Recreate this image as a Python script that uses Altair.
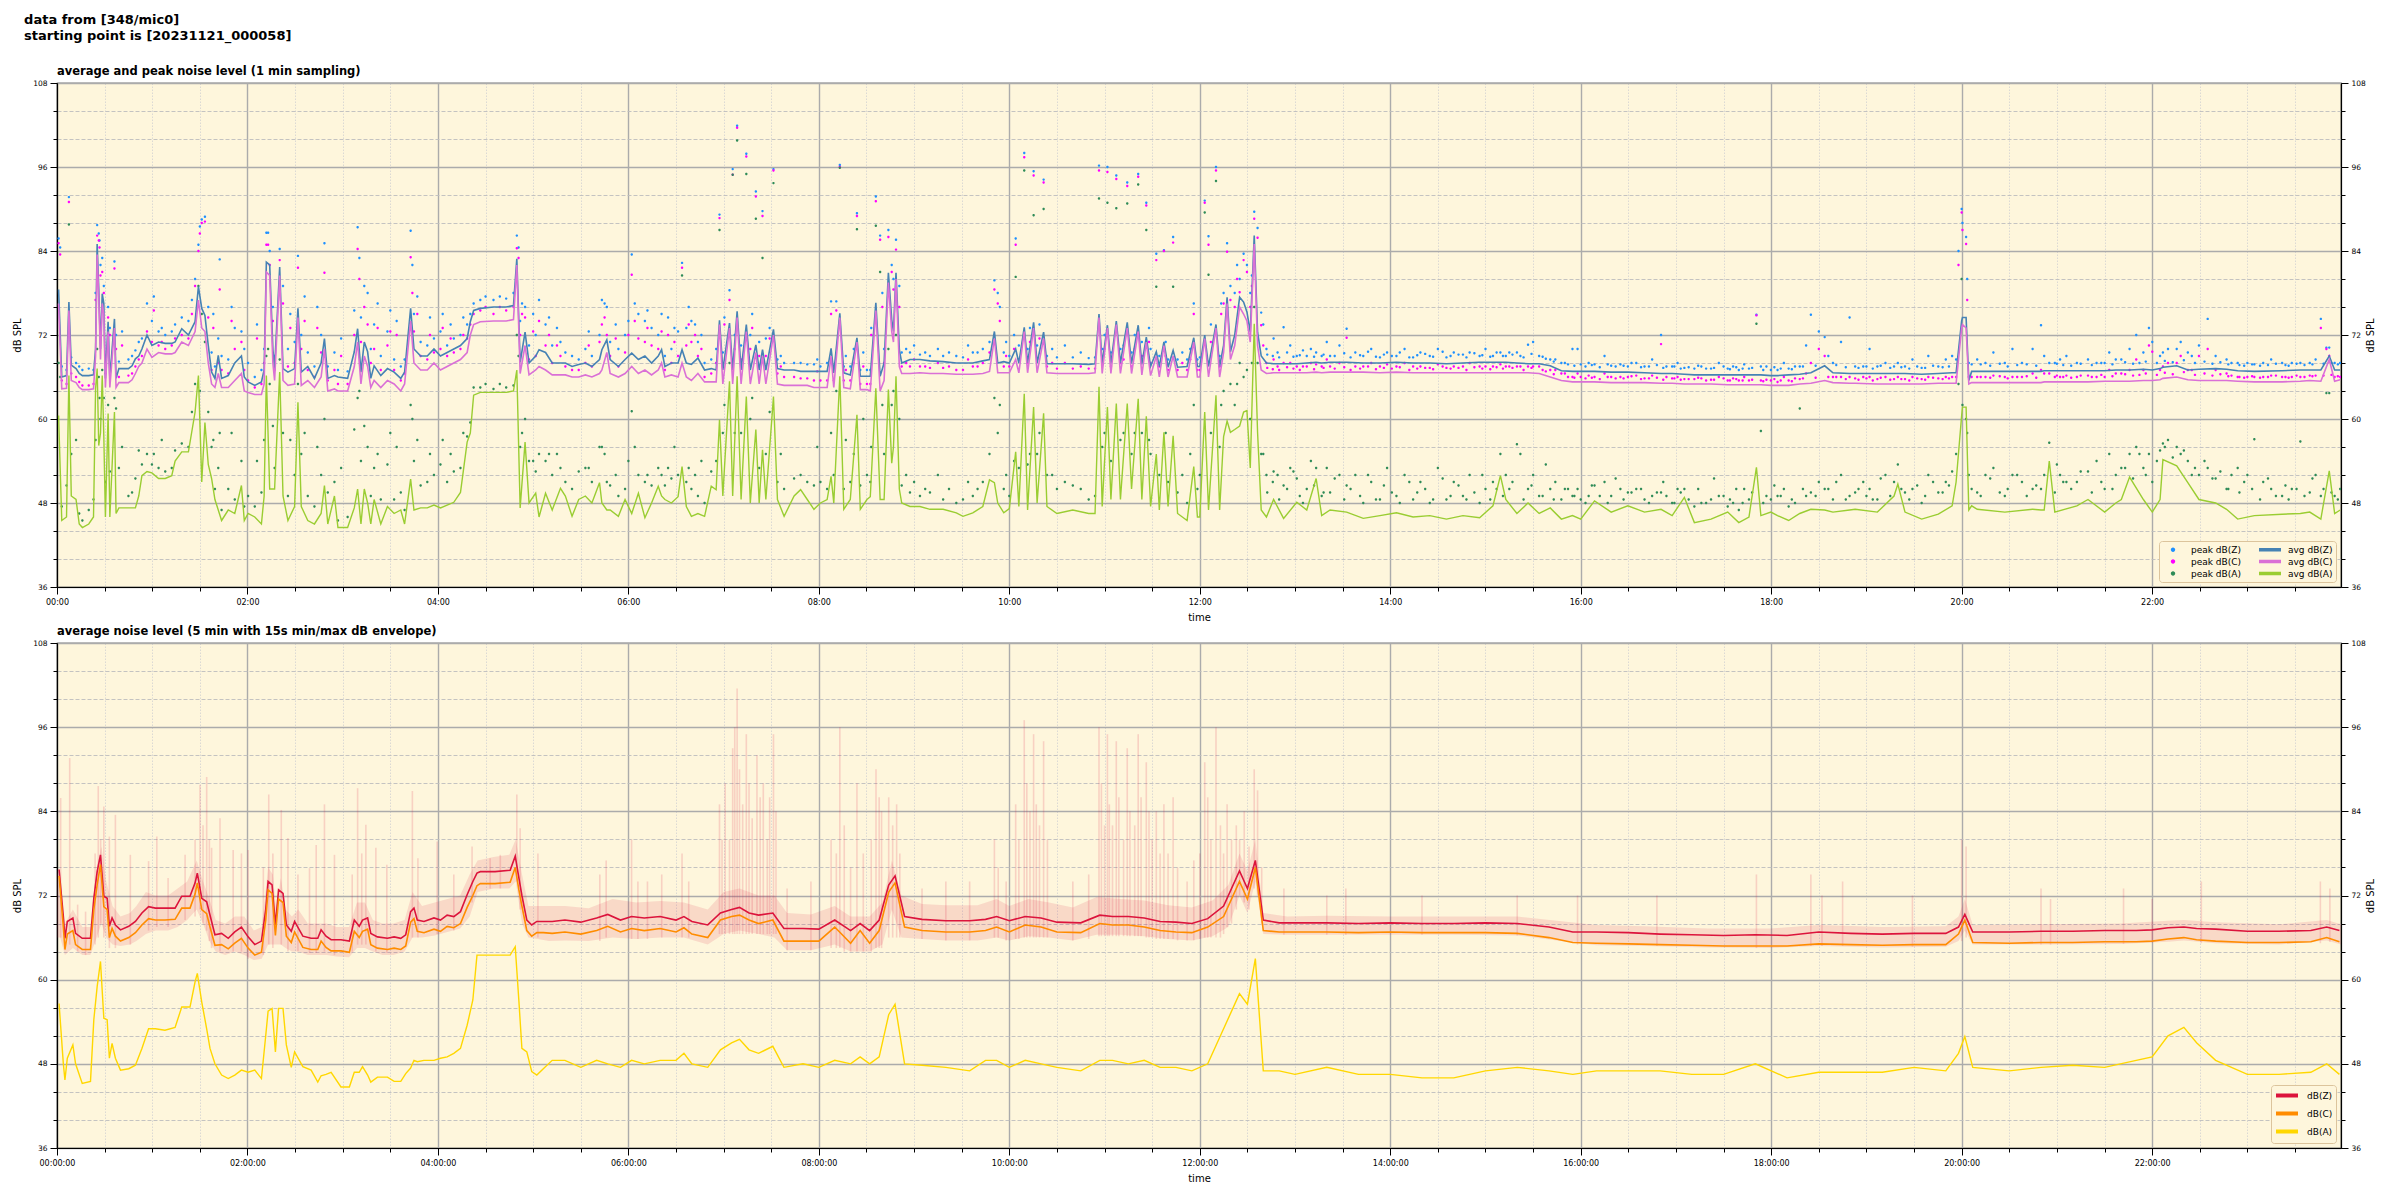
import altair as alt
import pandas as pd

# ---------------- top panel: 1-min averages (minutes since 00:00) ----------------
top_t = [1, 3, 6, 7.5, 9, 12, 14, 16, 20, 23,
         24.3, 25.3, 26.3, 27.4, 28.5, 29.5, 30.5, 32.2, 33.3, 36.2,
         37.2, 39, 45, 47.3, 49.4, 51.5, 53.5, 56.7, 59.8, 64,
         68.2, 72.3, 74.4, 78.6, 82.8, 87, 89.1, 91.2, 93.2, 95.3,
         97.4, 99.5, 101.6, 103.7, 107.9, 112, 116.2, 118, 120.4, 124.6,
         128.8, 130.5, 131.9, 134, 136, 137.1, 140.3, 142.4, 145.5, 149.7,
         151.8, 153.9, 158, 162.2, 166.4, 168.5, 170.6, 174.8, 177, 183.1,
         187.3, 189.4, 191.5, 193.6, 195.7, 197.7, 199.8, 204, 208.2, 212.4,
         216.6, 219, 222.8, 224.9, 229.1, 233.3, 237.5, 241.6, 245.8, 250,
         254.2, 258.4, 260.4, 262.5, 266.7, 275, 283, 287.6, 289.7, 291.8,
         294.9, 297.4, 301.6, 303.7, 307.8, 312, 317.2, 320.3, 324.5, 328.7,
         332.9, 337, 341.8, 343.3, 346.4, 348.5, 353.7, 357.9, 362.1, 366.3,
         370.4, 374.6, 378.8, 380.9, 383, 387.1, 391.3, 393.8, 396.5, 399.7,
         403.8, 408, 412.2, 415.3, 417.4, 419.5, 423.7, 425.7, 428.5, 431,
         434.3, 436.8, 440.3, 442.4, 444.5, 446.6, 451.4, 453.9, 458.1, 464.4,
         468.5, 472.7, 476.9, 481, 485.2, 487.7, 489.4, 493.2, 495.7, 499.8,
         504, 506.1, 510.3, 512.4, 515.9, 518.6, 521.1, 523.8, 525.9, 527,
         528.6, 530.7, 532.2, 537.4, 543.7, 550, 558.3, 566.6, 570.8, 577,
         583.3, 587.5, 590.6, 592.7, 596.5, 600, 604, 606, 609.4, 611.5,
         615.3, 617.5, 621.6, 623.7, 630, 640, 650, 654, 656.5, 658.5,
         661.8, 664, 667.4, 670, 674.3, 677, 681.2, 683.5, 686.3, 689,
         692.6, 694.5, 697.4, 700, 703.2, 706, 712, 716.2, 718.5, 720,
         723.1, 725.5, 730.2, 732.5, 735, 737.2, 739.3, 742, 745.1, 747.6,
         749.7, 751.8, 754.3, 756.4, 758.7, 762, 766.5, 772.8, 781.1, 787.4,
         793.3, 796.8, 802.1, 812.5, 823, 833.5, 843.9, 854.4, 864.9, 875.4,
         885.8, 896.3, 904.7, 909.4, 912.8, 919.8, 926.8, 933.8, 940.8, 947.8,
         954.8, 960, 968.7, 979.2, 989.7, 1000.2, 1010.6, 1017.6, 1025.3, 1031.6,
         1042.1, 1052.6, 1059.6, 1066, 1070.7, 1073.5, 1079.8, 1084, 1091, 1098,
         1105, 1113.7, 1118.9, 1129.4, 1132.9, 1146.9, 1157.4, 1159.8, 1164.3, 1174.8,
         1185.3, 1194, 1196.5, 1200, 1200.5, 1202.8, 1204.5, 1206.3, 1209.8, 1227.2,
         1244.7, 1250, 1252, 1255.2, 1258.7, 1272.6, 1279.6, 1290.1, 1297.1, 1300.6,
         1305.8, 1314.5, 1320.1, 1325, 1326.8, 1335.5, 1342.5, 1349.5, 1360, 1366.9,
         1373.9, 1384.4, 1401.9, 1413.4, 1419.3, 1426.3, 1431.6, 1435, 1438.5]

avg_z = [78.5, 66.0, 66.2, 76.7, 67.7, 67.2, 66.5, 66.2, 66.2, 66.3,
         70.0, 85.0, 78.6, 70.0, 77.9, 76.5, 65.8, 73.9, 65.8, 74.3,
         65.8, 67.2, 67.2, 67.6, 68.6, 69.0, 70.0, 72.0, 70.5, 71.0,
         70.8, 70.8, 71.0, 72.9, 72.0, 73.9, 78.9, 75.8, 74.8, 70.5,
         66.7, 65.8, 69.1, 65.8, 66.2, 68.0, 69.0, 66.0, 65.3, 64.8,
         65.3, 67.0, 82.4, 82.0, 70.0, 67.2, 81.7, 67.2, 66.7, 67.2,
         75.8, 66.7, 67.5, 65.8, 68.0, 71.5, 65.8, 66.2, 66.0, 65.8,
         69.6, 72.9, 66.7, 71.0, 69.6, 65.8, 67.6, 66.2, 67.2, 66.7,
         65.8, 66.7, 75.8, 70.0, 69.0, 69.0, 70.0, 69.0, 69.5, 70.0,
         70.5, 71.5, 73.9, 75.5, 75.8, 76.0, 76.0, 76.2, 82.9, 68.1,
         72.4, 68.0, 69.0, 69.9, 69.5, 68.0, 68.0, 68.0, 67.5, 67.8,
         68.0, 67.5, 68.5, 69.9, 71.3, 68.5, 67.5, 68.5, 69.4, 68.5,
         69.0, 68.0, 69.0, 69.9, 67.5, 68.0, 68.0, 69.9, 68.0, 67.8,
         68.7, 67.0, 67.2, 67.0, 74.1, 67.0, 73.7, 67.0, 75.4, 67.0,
         73.5, 67.0, 70.6, 67.0, 69.9, 67.0, 72.8, 67.2, 67.0, 67.0,
         66.8, 66.8, 66.8, 66.8, 66.8, 70.1, 66.6, 75.1, 66.6, 66.3,
         71.6, 66.1, 66.1, 66.1, 76.6, 66.1, 68.0, 80.9, 74.2, 72.5,
         80.9, 69.9, 68.0, 68.5, 68.5, 68.3, 68.2, 68.0, 68.0, 68.0,
         68.3, 68.5, 72.5, 68.0, 68.2, 68.0, 70.0, 68.0, 73.1, 68.0,
         73.8, 68.0, 72.4, 67.9, 67.9, 67.9, 67.8, 67.9, 75.0, 67.9,
         73.4, 67.9, 74.0, 68.0, 73.8, 67.9, 73.4, 67.8, 71.7, 67.5,
         69.6, 67.5, 71.0, 67.4, 69.8, 67.4, 67.5, 71.6, 67.5, 67.5,
         72.0, 67.5, 73.5, 67.5, 70.5, 77.4, 69.6, 72.0, 77.4, 76.7,
         75.3, 72.4, 86.2, 72.4, 69.0, 68.0, 67.9, 67.9, 67.9, 68.0,
         68.1, 68.0, 68.1, 68.1, 68.0, 68.0, 68.1, 68.0, 68.0, 67.9,
         68.0, 68.1, 68.1, 68.1, 68.1, 68.0, 67.9, 67.9, 67.6, 66.9,
         66.8, 66.8, 66.8, 66.7, 66.7, 66.6, 66.5, 66.5, 66.4, 66.3,
         66.3, 66.3, 66.3, 66.3, 66.3, 66.3, 66.2, 66.2, 66.3, 66.4,
         66.6, 67.6, 66.6, 66.5, 66.5, 66.5, 66.5, 66.5, 66.5, 66.4,
         66.5, 66.6, 66.6, 74.0, 74.5, 74.5, 65.5, 66.8, 66.8, 66.8,
         66.8, 66.8, 66.9, 66.9, 66.9, 66.9, 66.9, 66.9, 67.0, 67.0,
         67.0, 67.1, 67.0, 67.2, 67.4, 67.6, 67.0, 67.1, 67.2, 67.1,
         66.9, 66.8, 66.9, 67.0, 67.0, 67.0, 69.0, 67.0, 67.0]

avg_c = [76.5, 64.3, 64.4, 75.5, 65.5, 65.2, 64.5, 64.2, 64.2, 64.3,
         69.0, 83.5, 77.5, 68.5, 76.5, 75.0, 64.5, 72.5, 64.5, 73.0,
         64.5, 65.2, 65.2, 65.6, 66.5, 67.5, 68.0, 70.0, 68.8, 69.5,
         69.3, 69.3, 69.5, 71.0, 70.5, 72.5, 77.0, 73.0, 72.5, 68.0,
         65.0, 64.5, 66.5, 64.5, 64.5, 65.5, 66.5, 64.0, 63.8, 63.5,
         63.5, 65.0, 81.0, 80.5, 68.0, 65.5, 80.5, 65.5, 64.8, 65.0,
         74.5, 64.8, 65.5, 64.5, 66.0, 70.0, 64.0, 64.3, 64.0, 64.0,
         67.5, 71.0, 65.0, 69.0, 67.5, 64.5, 65.5, 64.5, 65.5, 65.0,
         64.0, 65.0, 74.0, 68.0, 67.0, 67.0, 68.0, 67.0, 67.5, 68.0,
         68.5, 69.5, 72.0, 73.5, 73.9, 74.0, 74.0, 74.2, 82.0, 66.5,
         70.5, 66.3, 67.0, 67.5, 67.0, 66.3, 66.3, 66.3, 66.0, 66.0,
         66.3, 66.0, 66.5, 67.0, 69.5, 66.5, 66.0, 66.5, 67.5, 66.5,
         67.0, 66.3, 67.0, 68.0, 66.0, 66.3, 66.0, 68.0, 66.0, 65.5,
         66.5, 65.3, 65.3, 65.3, 73.5, 65.0, 73.0, 65.0, 74.5, 65.0,
         72.5, 65.0, 69.5, 65.0, 69.0, 65.0, 72.0, 65.0, 64.8, 64.8,
         64.8, 64.8, 64.5, 64.5, 64.5, 69.0, 64.5, 74.5, 64.5, 64.3,
         71.0, 64.2, 64.2, 64.0, 75.5, 64.0, 65.5, 79.5, 72.5, 71.0,
         80.0, 67.5, 66.5, 66.5, 66.6, 66.5, 66.5, 66.4, 66.4, 66.4,
         66.5, 66.8, 71.5, 66.6, 66.6, 66.6, 68.5, 66.6, 72.5, 66.6,
         73.0, 66.6, 71.5, 66.6, 66.5, 66.5, 66.5, 66.6, 74.5, 66.5,
         73.0, 66.5, 73.5, 66.5, 73.0, 66.5, 72.5, 66.3, 71.0, 66.2,
         69.0, 66.0, 70.5, 66.0, 69.0, 66.0, 66.0, 71.0, 66.0, 66.0,
         71.5, 66.0, 73.0, 66.0, 69.5, 76.5, 68.5, 70.5, 76.0, 75.0,
         74.0, 71.0, 85.0, 70.5, 67.0, 66.5, 66.6, 66.6, 66.6, 66.6,
         66.7, 66.6, 66.7, 66.7, 66.7, 66.6, 66.7, 66.6, 66.6, 66.6,
         66.6, 66.6, 66.6, 66.6, 66.6, 66.6, 66.6, 66.5, 66.0, 65.5,
         65.3, 65.3, 65.3, 65.2, 65.2, 65.2, 65.1, 65.1, 65.0, 65.0,
         65.0, 64.9, 64.9, 64.9, 64.9, 64.9, 64.8, 64.8, 64.8, 65.0,
         65.1, 65.5, 65.2, 65.1, 65.1, 65.0, 65.0, 65.0, 65.0, 65.0,
         65.1, 65.1, 65.1, 73.0, 73.5, 73.0, 65.0, 65.2, 65.2, 65.2,
         65.2, 65.2, 65.3, 65.3, 65.3, 65.3, 65.3, 65.4, 65.4, 65.4,
         65.4, 65.5, 65.5, 65.6, 65.8, 66.0, 65.6, 65.5, 65.5, 65.5,
         65.4, 65.3, 65.3, 65.4, 65.5, 65.4, 68.5, 65.4, 65.6]

avg_a = [60.5, 45.5, 46.0, 66.2, 49.0, 48.5, 45.0, 44.5, 45.0, 46.0,
         64.3, 67.2, 56.2, 58.0, 66.2, 57.5, 46.0, 60.8, 46.0, 61.0,
         46.5, 47.3, 47.3, 47.3, 47.3, 49.0, 51.9, 52.5, 52.3, 51.5,
         51.5, 51.9, 54.0, 55.3, 55.3, 61.0, 66.2, 51.0, 59.5, 53.5,
         51.5, 48.5, 47.0, 45.5, 47.0, 46.5, 50.5, 45.5, 46.5, 46.0,
         45.0, 49.0, 66.2, 50.0, 50.0, 50.0, 66.7, 49.0, 45.5, 47.5,
         62.4, 47.5, 45.5, 45.0, 46.5, 50.5, 45.0, 49.0, 44.5, 44.5,
         47.3, 50.0, 45.0, 50.0, 48.0, 45.0, 48.5, 45.0, 47.5, 46.5,
         47.0, 45.0, 51.4, 47.0, 47.3, 47.3, 47.7, 47.3, 47.7, 48.1,
         49.5, 56.7, 58.0, 63.4, 63.8, 63.8, 63.8, 64.0, 67.0, 47.3,
         56.7, 48.0, 49.4, 46.0, 49.4, 47.0, 50.1, 49.0, 46.1, 48.5,
         49.0, 48.0, 50.9, 48.0, 47.0, 47.0, 46.1, 48.5, 46.5, 49.4,
         45.9, 48.0, 50.4, 49.0, 48.5, 48.0, 48.9, 53.2, 47.5, 46.1,
         46.5, 46.1, 50.4, 49.9, 59.9, 49.0, 65.4, 49.0, 66.1, 48.5,
         63.2, 48.0, 58.5, 48.0, 55.6, 48.5, 63.2, 48.5, 46.1, 49.0,
         49.9, 48.5, 47.1, 48.0, 48.5, 51.8, 48.0, 66.1, 47.1, 48.5,
         60.6, 47.1, 48.5, 48.9, 64.4, 48.5, 48.5, 64.2, 53.7, 56.0,
         66.1, 50.0, 48.0, 47.5, 47.5, 47.1, 47.1, 46.6, 46.1, 46.6,
         47.5, 51.3, 50.9, 48.0, 46.6, 47.2, 55.3, 47.5, 63.6, 47.0,
         61.7, 48.0, 60.8, 47.5, 46.5, 47.0, 46.5, 46.5, 64.6, 47.5,
         61.7, 48.5, 62.2, 48.5, 62.2, 50.0, 62.9, 48.5, 60.4, 47.5,
         55.0, 47.0, 58.1, 47.5, 57.6, 46.5, 45.5, 53.2, 46.0, 46.0,
         61.0, 47.0, 63.4, 47.0, 57.5, 59.7, 58.1, 58.5, 59.0, 61.0,
         61.2, 53.0, 73.6, 58.1, 47.0, 46.0, 48.5, 45.8, 48.1, 47.0,
         51.5, 46.2, 47.0, 46.7, 45.8, 46.2, 46.6, 46.0, 46.2, 45.7,
         46.2, 45.9, 47.6, 51.9, 48.5, 46.5, 48.0, 46.5, 47.3, 45.7,
         46.2, 45.7, 48.3, 46.7, 47.6, 46.7, 47.1, 46.2, 48.8, 45.2,
         45.7, 46.7, 45.2, 46.0, 53.1, 46.2, 46.7, 46.2, 45.5, 46.5,
         47.1, 47.0, 46.7, 47.0, 47.1, 46.7, 49.0, 50.7, 46.7, 45.7,
         46.4, 47.6, 51.0, 60.5, 61.7, 61.7, 47.0, 47.6, 47.1, 46.7,
         47.1, 47.0, 47.0, 54.0, 46.7, 47.6, 48.5, 46.7, 48.0, 48.5,
         51.7, 48.5, 46.7, 48.5, 54.2, 53.3, 50.9, 48.5, 48.0, 47.1,
         45.7, 46.2, 46.4, 46.5, 46.7, 45.7, 52.6, 46.5, 47.0]

# 1-min peak values at the same minutes
peak_z = [85.8, 67.5, 67.0, 91.7, 68.8, 68.0, 67.5, 67.0, 67.2, 67.0,
          78.0, 87.7, 86.5, 82.0, 83.0, 79.0, 68.0, 76.0, 73.0, 82.5,
          72.0, 68.2, 68.5, 69.0, 69.8, 71.0, 71.5, 76.5, 74.0, 72.5,
          72.0, 72.5, 73.5, 74.5, 74.0, 80.0, 84.9, 88.5, 88.9, 76.0,
          69.5, 67.5, 71.5, 69.0, 68.5, 73.0, 72.5, 70.0, 68.0, 66.0,
          67.0, 70.0, 86.6, 84.0, 76.0, 69.0, 84.3, 79.0, 70.0, 71.0,
          83.3, 72.0, 69.5, 67.5, 72.0, 85.1, 67.5, 69.5, 67.0, 66.8,
          75.5, 87.4, 74.5, 79.0, 78.0, 70.0, 73.5, 69.0, 72.5, 68.5,
          67.5, 68.5, 86.9, 75.0, 71.0, 70.5, 71.5, 72.5, 70.5, 71.5,
          72.0, 73.5, 75.0, 76.5, 77.0, 77.0, 77.2, 78.0, 86.2, 74.0,
          76.0, 70.5, 72.0, 77.0, 73.5, 70.5, 71.0, 69.5, 69.0, 68.5,
          70.0, 69.0, 72.0, 77.0, 76.0, 71.0, 70.0, 72.0, 83.5, 75.0,
          74.0, 73.0, 72.0, 75.0, 69.0, 70.0, 72.5, 82.3, 73.0, 74.0,
          71.0, 68.0, 68.5, 70.0, 89.2, 69.5, 78.4, 95.7, 101.9, 70.5,
          97.9, 72.0, 92.5, 71.0, 89.7, 71.5, 95.7, 68.5, 68.0, 68.0,
          68.0, 67.8, 67.8, 67.5, 68.0, 76.8, 67.5, 96.3, 67.5, 67.5,
          89.4, 67.0, 67.0, 67.0, 91.8, 86.2, 70.0, 87.0, 82.0, 80.0,
          85.6, 79.0, 69.5, 69.5, 69.2, 69.0, 69.0, 69.0, 68.8, 69.5,
          70.0, 71.0, 79.8, 78.0, 69.5, 69.0, 85.8, 70.5, 98.0, 70.0,
          95.4, 70.5, 94.2, 69.0, 68.8, 68.8, 68.7, 68.8, 96.2, 70.0,
          96.0, 69.5, 94.8, 70.0, 93.8, 69.5, 95.0, 71.0, 90.9, 70.0,
          83.6, 69.0, 84.1, 68.5, 86.0, 68.5, 68.5, 76.5, 68.5, 68.8,
          91.2, 86.1, 96.0, 69.0, 78.0, 85.1, 79.0, 78.0, 80.0, 83.6,
          82.0, 78.0, 89.6, 87.3, 75.2, 70.0, 71.5, 73.1, 69.0, 69.0,
          69.5, 69.0, 69.0, 72.9, 69.0, 68.8, 69.0, 68.8, 69.0, 68.8,
          69.2, 69.0, 69.0, 69.5, 69.0, 69.5, 70.6, 69.0, 68.5, 68.0,
          70.0, 67.8, 67.8, 67.6, 67.5, 67.5, 72.0, 67.5, 67.3, 67.2,
          67.2, 67.2, 67.0, 67.2, 74.9, 67.5, 67.0, 67.0, 67.2, 67.5,
          74.9, 71.7, 68.0, 74.5, 67.5, 67.5, 67.5, 68.0, 67.5, 67.3,
          67.5, 69.0, 68.5, 90.0, 88.0, 86.0, 68.0, 67.8, 68.5, 68.0,
          70.0, 73.4, 69.0, 68.0, 68.0, 68.0, 68.5, 68.0, 68.5, 68.5,
          70.0, 69.5, 71.0, 69.0, 69.5, 70.0, 69.5, 70.5, 69.0, 68.5,
          68.0, 67.8, 68.0, 68.0, 68.0, 74.3, 70.2, 68.0, 68.0]

peak_c = [85.1, 65.5, 65.0, 91.0, 66.5, 66.0, 65.3, 64.8, 64.8, 65.0,
          77.0, 86.2, 85.5, 80.5, 81.0, 78.0, 66.5, 74.5, 72.0, 81.5,
          70.0, 66.0, 66.2, 66.5, 67.5, 68.5, 69.0, 72.5, 71.0, 70.5,
          70.0, 70.5, 71.5, 72.0, 71.5, 79.0, 84.0, 88.0, 88.2, 74.5,
          67.0, 66.0, 68.0, 67.0, 66.5, 70.0, 71.0, 67.0, 65.5, 64.5,
          65.0, 68.0, 84.9, 82.0, 74.0, 67.0, 82.7, 76.5, 67.5, 68.0,
          81.6, 70.0, 67.0, 66.0, 69.5, 80.9, 65.5, 67.0, 65.0, 65.0,
          72.0, 84.3, 71.0, 76.0, 73.5, 68.0, 70.0, 67.0, 70.5, 67.0,
          65.5, 66.5, 83.1, 72.5, 69.0, 68.5, 69.5, 70.0, 69.0, 69.5,
          70.0, 71.5, 73.5, 75.0, 75.5, 75.0, 75.5, 76.0, 84.4, 72.0,
          74.5, 68.5, 69.0, 74.0, 70.5, 68.0, 69.0, 67.5, 67.0, 67.0,
          68.0, 67.5, 71.0, 73.5, 72.0, 69.0, 67.5, 69.5, 80.6, 71.5,
          71.0, 70.5, 70.0, 72.5, 67.0, 68.0, 69.0, 81.6, 70.5, 71.0,
          69.0, 66.0, 66.5, 68.0, 88.7, 67.5, 77.0, 94.9, 101.6, 68.5,
          97.5, 70.0, 91.8, 69.0, 89.0, 69.0, 95.5, 66.5, 66.0, 66.0,
          65.8, 65.8, 65.5, 65.5, 65.5, 75.0, 65.5, 96.0, 65.5, 65.5,
          89.0, 65.0, 65.0, 65.0, 91.1, 85.6, 68.0, 86.0, 81.0, 78.5,
          84.2, 76.0, 67.5, 67.5, 67.5, 67.3, 67.3, 67.0, 67.0, 67.5,
          68.0, 69.5, 78.5, 76.5, 67.5, 67.5, 84.9, 68.5, 97.4, 68.0,
          94.8, 68.5, 93.8, 67.5, 67.2, 67.2, 67.2, 67.2, 95.5, 68.0,
          95.3, 67.5, 94.3, 68.0, 93.3, 67.5, 94.6, 69.0, 90.5, 68.0,
          82.7, 67.5, 84.0, 67.0, 85.2, 67.0, 67.0, 75.0, 67.0, 67.0,
          90.9, 84.9, 95.5, 67.5, 76.5, 83.9, 77.0, 76.0, 78.1, 82.7,
          81.0, 76.0, 88.6, 85.9, 73.4, 68.0, 68.5, 68.0, 67.5, 67.5,
          67.8, 67.5, 67.5, 71.6, 67.5, 67.5, 67.5, 67.5, 67.3, 67.3,
          67.5, 67.5, 67.5, 67.8, 67.5, 67.5, 67.5, 67.5, 67.0, 66.5,
          66.0, 66.0, 66.0, 66.0, 66.0, 65.8, 70.7, 65.8, 65.7, 65.7,
          65.6, 65.5, 65.5, 65.5, 74.8, 65.5, 65.5, 65.3, 65.5, 65.7,
          68.0, 69.0, 66.0, 66.0, 65.8, 65.7, 65.7, 66.0, 65.7, 65.7,
          65.8, 66.0, 66.0, 89.5, 87.0, 85.0, 66.0, 66.0, 66.0, 66.0,
          66.5, 67.0, 66.5, 66.5, 66.0, 66.0, 66.2, 66.0, 66.5, 66.5,
          67.0, 67.0, 69.6, 67.0, 67.5, 68.0, 67.0, 69.0, 67.0, 66.5,
          66.0, 66.0, 66.0, 66.0, 66.2, 73.0, 69.0, 66.0, 66.0]

peak_a = [68.0, 47.5, 50.5, 87.8, 55.0, 57.0, 46.5, 45.5, 47.0, 48.5,
          57.0, 70.0, 66.0, 60.0, 67.0, 63.0, 51.0, 62.0, 52.5, 63.0,
          61.5, 53.0, 49.0, 49.5, 51.5, 55.5, 53.5, 55.0, 53.5, 53.0,
          52.5, 53.0, 55.5, 56.5, 56.0, 65.0, 79.0, 75.0, 71.0, 61.0,
          56.0, 50.0, 53.0, 47.0, 50.0, 48.5, 54.0, 47.5, 49.0, 47.5,
          49.5, 57.0, 69.0, 65.0, 59.0, 53.0, 68.5, 58.0, 49.0, 52.0,
          65.0, 55.0, 49.0, 47.5, 52.0, 60.0, 49.5, 51.0, 45.5, 46.0,
          58.5, 63.0, 54.0, 59.0, 56.0, 49.0, 53.0, 48.5, 53.5, 48.5,
          49.5, 47.0, 62.0, 54.0, 50.5, 51.0, 52.0, 53.5, 51.0, 52.5,
          53.0, 57.5, 59.5, 64.5, 64.5, 64.3, 64.5, 64.8, 72.0, 56.0,
          60.0, 54.0, 52.5, 55.0, 54.0, 52.0, 53.0, 51.0, 50.0, 52.5,
          53.0, 51.0, 56.0, 56.0, 51.0, 50.5, 49.0, 50.0, 61.1, 52.0,
          51.0, 50.5, 53.0, 52.0, 50.5, 51.5, 52.0, 80.5, 51.0, 50.0,
          49.0, 48.0, 52.5, 54.0, 87.0, 58.0, 68.0, 94.9, 99.8, 58.0,
          95.0, 60.0, 88.6, 53.0, 83.0, 55.0, 93.7, 51.0, 50.0, 51.5,
          52.0, 51.0, 50.5, 51.0, 50.0, 58.0, 52.0, 95.9, 50.0, 51.0,
          87.1, 50.5, 52.0, 51.0, 87.6, 81.0, 55.0, 70.0, 62.0, 64.0,
          72.0, 60.0, 50.5, 49.5, 49.0, 49.5, 48.5, 48.0, 48.5, 49.0,
          51.0, 55.0, 63.0, 58.0, 50.0, 49.0, 80.3, 53.0, 95.5, 53.5,
          89.1, 55.0, 90.0, 52.0, 50.0, 50.5, 48.5, 49.0, 91.5, 56.0,
          90.9, 54.0, 90.1, 57.0, 90.8, 55.0, 93.5, 58.0, 87.0, 55.0,
          78.9, 52.0, 70.0, 51.0, 78.9, 49.5, 48.0, 62.0, 50.0, 52.0,
          89.5, 80.6, 94.0, 56.0, 64.0, 75.9, 65.0, 62.0, 68.0, 66.0,
          67.0, 60.0, 76.0, 68.0, 55.0, 52.0, 52.5, 50.5, 51.5, 50.0,
          53.0, 49.0, 49.5, 50.5, 48.0, 48.5, 49.0, 48.5, 48.0, 48.5,
          49.0, 48.0, 51.0, 55.0, 52.0, 56.4, 50.0, 49.0, 50.0, 48.5,
          49.0, 48.5, 50.5, 49.0, 49.5, 48.5, 49.5, 48.0, 50.0, 47.5,
          48.5, 47.5, 47.0, 48.5, 73.6, 58.3, 48.5, 49.0, 47.5, 61.5,
          49.5, 50.0, 48.5, 49.0, 49.5, 48.5, 51.0, 53.5, 49.5, 48.0,
          49.5, 52.5, 55.0, 80.0, 62.0, 60.0, 52.0, 50.0, 49.5, 49.0,
          50.0, 50.0, 52.0, 56.6, 49.5, 51.0, 52.5, 50.0, 52.0, 53.0,
          55.0, 53.0, 51.0, 55.5, 56.5, 56.0, 54.0, 52.0, 51.5, 50.0,
          53.0, 57.1, 49.0, 56.8, 49.5, 49.0, 63.7, 49.0, 50.0]

# additional 1-min peak readings between the minutes above
extra_t = [2, 26.8, 41, 61, 66, 85, 90, 98.5, 102.5, 110,
           126, 133, 147, 156, 164, 179, 190.5, 202, 210, 214,
           223.9, 227, 235, 243, 248, 256, 270, 279, 290.8, 293,
           300, 310, 315, 335, 345, 352, 360, 364, 372, 385,
           389, 398, 402, 406, 420.5, 427, 438, 449, 456, 479,
           491, 497, 502, 508, 513, 520, 535, 540, 547, 555,
           562, 574, 580, 594, 598, 603, 613, 619, 627, 635,
           645, 660, 672, 679, 688, 698.5, 709, 714, 727, 733.5,
           743.5, 752.8, 760, 769, 777, 790, 800, 808, 818, 828,
           838, 849, 859, 870, 880, 890, 900, 915, 922, 930,
           944, 950, 958, 965, 975, 985, 995, 1005, 1014, 1021,
           1036, 1047, 1056, 1063, 1077, 1088, 1095, 1102, 1110, 1116,
           1124, 1138, 1142, 1152, 1169, 1179, 1190, 1198, 1203.5, 1215,
           1220, 1232, 1238, 1262, 1266, 1285, 1293, 1310, 1318, 1330,
           1338, 1345, 1355, 1370, 1380, 1390, 1395, 1408, 1423, 1429.8]
extra_z = [84.5, 85.5, 72.5, 77.5, 73.0, 77.0, 87.5, 75.0, 82.8, 76.0,
           73.5, 86.6, 75.0, 77.5, 76.0, 71.5, 83.0, 76.5, 75.5, 74.0,
           82.0, 77.5, 74.5, 75.0, 73.5, 74.5, 77.5, 77.5, 84.5, 76.5,
           75.0, 74.5, 73.0, 72.5, 76.5, 73.5, 74.0, 76.5, 75.5, 74.5,
           73.0, 76.0, 73.5, 72.0, 74.5, 72.0, 75.0, 73.0, 69.0, 68.5,
           76.8, 69.0, 70.0, 69.5, 73.0, 78.0, 70.0, 70.5, 69.5, 70.0,
           69.5, 70.5, 69.5, 76.0, 71.0, 72.0, 73.0, 73.5, 70.0, 70.5,
           69.5, 72.0, 70.5, 72.0, 73.0, 71.0, 69.5, 70.0, 73.5, 76.5,
           82.0, 80.5, 73.5, 69.5, 70.5, 70.0, 71.0, 70.5, 69.5, 70.0,
           69.5, 70.0, 69.5, 70.0, 69.5, 69.5, 70.0, 69.5, 69.0, 71.0,
           68.5, 68.0, 70.0, 68.0, 69.0, 67.8, 68.0, 68.5, 67.5, 68.0,
           67.5, 68.0, 67.5, 67.8, 67.5, 68.0, 67.5, 70.5, 72.5, 69.0,
           71.0, 67.5, 70.0, 68.0, 68.5, 69.0, 68.5, 84.0, 80.0, 68.0,
           69.5, 70.0, 68.0, 68.5, 69.0, 68.0, 69.5, 72.0, 73.0, 70.0,
           71.0, 69.0, 74.3, 68.0, 68.0, 68.0, 68.5, 68.0, 68.5, 70.2]
extra_c = [83.5, 84.5, 70.5, 75.5, 71.0, 75.0, 86.5, 73.0, 78.5, 74.0,
           71.5, 84.9, 73.0, 74.0, 73.0, 69.0, 80.0, 73.0, 72.5, 72.0,
           78.0, 75.0, 72.0, 73.0, 71.5, 72.0, 76.0, 76.0, 83.0, 75.0,
           72.5, 72.0, 70.5, 70.5, 74.5, 71.5, 72.0, 74.0, 73.0, 72.0,
           71.0, 73.5, 72.0, 70.0, 73.5, 70.0, 73.0, 71.5, 67.5, 66.8,
           75.5, 67.0, 68.0, 67.5, 72.0, 76.0, 68.0, 68.5, 67.5, 68.0,
           67.5, 68.5, 67.5, 74.0, 69.0, 70.0, 71.0, 71.5, 68.0, 68.0,
           67.5, 70.0, 68.5, 70.0, 71.0, 69.0, 68.0, 68.5, 71.0, 75.0,
           80.0, 79.0, 70.5, 67.5, 68.0, 68.0, 68.5, 68.0, 67.5, 68.0,
           67.8, 68.0, 67.5, 67.8, 67.5, 68.0, 67.5, 67.5, 67.5, 67.5,
           67.0, 66.5, 66.5, 66.2, 66.5, 66.0, 66.2, 66.2, 66.0, 66.0,
           65.8, 66.0, 65.8, 66.0, 65.6, 66.0, 65.8, 66.5, 70.0, 66.0,
           66.0, 66.0, 66.0, 66.0, 66.0, 66.0, 66.0, 82.0, 77.0, 66.0,
           66.2, 66.0, 66.0, 66.0, 66.2, 66.0, 67.0, 68.5, 70.5, 68.0,
           69.0, 67.0, 70.0, 66.2, 66.0, 66.0, 66.2, 66.0, 66.2, 70.0]
extra_a = [66, 63, 56, 55, 57, 61, 64, 57, 58, 58,
           54, 70, 57, 58, 56, 53, 64, 55, 58, 56,
           60, 57, 55, 57, 55, 58, 65, 65, 69, 58,
           54, 55, 55, 53, 55, 52, 54, 56, 52, 53,
           56, 53, 52, 54, 62, 58, 63, 61, 55, 56,
           64, 57, 55, 60, 56, 62, 52, 51, 50, 52,
           50, 51, 50, 62, 52, 54, 55, 58, 52, 51,
           50, 58, 58, 58, 57, 58, 52, 55, 58, 62,
           65, 68, 55, 52, 53, 54, 53, 52, 52, 51,
           53, 52, 51, 53, 51, 52, 50, 50, 55, 52,
           51, 50, 50, 49, 51, 50, 50, 49, 49, 50,
           48, 49, 48, 50, 49, 50, 48, 49, 51, 50,
           52, 51, 50, 52, 50, 52, 51, 65, 58, 52,
           53, 52, 51, 52, 51, 54, 55, 56, 55, 57,
           55, 52, 53, 52, 52, 51, 50, 50, 52, 63.7]

# more 1-min peak readings in the quiet afternoon / evening
quiet_t = [762.5, 766, 770, 775, 779, 783, 785, 792, 798, 805,
           811, 815, 821, 826, 831, 836, 841, 846, 852, 857,
           862, 867, 873, 878, 883, 888, 893, 898, 903, 907,
           911, 917, 924, 929, 936, 938, 943, 952, 956, 963,
           967, 972, 977, 982, 987, 992, 998, 1003, 1008, 1012,
           1019, 1023, 1028, 1034, 1039, 1044, 1050, 1054, 1058, 1062,
           1068, 1075, 1082, 1086, 1093, 1100, 1108, 1121, 1127, 1135,
           1140, 1144, 1149, 1155, 1162, 1167, 1172, 1177, 1182, 1188,
           1192, 1212, 1218, 1224, 1229, 1235, 1241, 1247, 1260, 1264,
           1269, 1275, 1282, 1288, 1295, 1303, 1308, 1312, 1316, 1323,
           1328, 1333, 1340, 1347, 1353, 1358, 1363, 1368, 1375, 1378,
           1383, 1388, 1393, 1398, 1404, 1406, 1411, 1416, 1421, 1428,
           1433, 1437]
quiet_z = [69.2, 69.0, 68.8, 69.5, 68.9, 69.1, 69.8, 68.9, 69.2, 69.0,
           69.4, 68.8, 69.1, 69.6, 68.9, 69.2, 69.0, 69.5, 68.8, 69.1,
           69.3, 68.9, 69.6, 69.0, 69.2, 68.8, 69.4, 69.1, 68.9, 69.5,
           69.0, 69.2, 68.8, 69.3, 68.9, 68.6, 68.2, 67.8, 67.6, 67.5,
           67.7, 67.4, 67.8, 67.5, 67.6, 68.0, 67.4, 67.5, 67.7, 67.3,
           67.5, 67.2, 67.4, 67.6, 67.2, 67.3, 67.5, 67.1, 67.4, 67.2,
           67.3, 67.0, 67.4, 67.2, 67.1, 67.5, 67.6, 67.7, 67.4, 67.3,
           67.5, 67.2, 67.6, 67.3, 67.4, 67.2, 67.5, 67.3, 67.6, 67.4,
           67.5, 67.8, 67.6, 67.9, 67.5, 67.7, 67.8, 67.6, 67.9, 67.7,
           67.6, 67.9, 67.7, 68.0, 67.8, 68.1, 67.9, 68.0, 68.2, 68.0,
           68.3, 68.1, 68.4, 68.0, 68.2, 67.9, 68.1, 67.8, 67.7, 67.6,
           67.8, 67.6, 67.7, 67.9, 67.7, 67.6, 67.9, 67.7, 67.8, 67.9,
           68.0, 67.8]
quiet_c = [67.3, 67.1, 67.0, 67.4, 67.2, 67.0, 67.5, 67.1, 67.3, 67.2,
           67.4, 67.0, 67.2, 67.5, 67.1, 67.3, 67.2, 67.4, 67.0, 67.2,
           67.3, 67.1, 67.5, 67.2, 67.3, 67.0, 67.4, 67.2, 67.1, 67.4,
           67.2, 67.3, 67.0, 67.3, 67.0, 66.8, 66.4, 66.0, 65.9, 65.8,
           65.9, 65.7, 66.0, 65.8, 65.8, 66.1, 65.7, 65.8, 65.9, 65.6,
           65.8, 65.6, 65.7, 65.9, 65.5, 65.6, 65.8, 65.5, 65.7, 65.5,
           65.6, 65.4, 65.7, 65.5, 65.4, 65.8, 65.9, 66.0, 65.7, 65.6,
           65.8, 65.5, 65.9, 65.6, 65.7, 65.5, 65.8, 65.6, 65.9, 65.7,
           65.8, 66.0, 65.9, 66.1, 65.8, 66.0, 66.1, 65.9, 66.2, 66.0,
           65.9, 66.2, 66.0, 66.3, 66.1, 66.4, 66.2, 66.3, 66.5, 66.3,
           66.6, 66.4, 66.7, 66.3, 66.5, 66.2, 66.4, 66.1, 66.0, 65.9,
           66.1, 65.9, 66.0, 66.2, 66.0, 65.9, 66.2, 66.0, 66.1, 66.2,
           66.3, 66.1]
quiet_a = [49.5, 51.0, 48.5, 50.0, 52.5, 49.0, 48.0, 50.5, 49.5, 51.5,
           48.5, 50.0, 49.0, 52.0, 48.5, 50.5, 49.5, 48.0, 51.0, 49.5,
           50.0, 48.5, 51.5, 49.0, 50.5, 48.5, 49.5, 52.0, 48.5, 50.0,
           49.0, 51.0, 48.5, 50.5, 49.0, 53.5, 48.5, 50.0, 49.0, 48.0,
           50.5, 49.0, 48.0, 51.5, 48.5, 49.5, 50.0, 48.0, 49.5, 51.0,
           48.0, 49.5, 48.5, 50.0, 48.0, 51.5, 49.0, 48.5, 50.0, 48.0,
           49.5, 48.0, 50.5, 49.0, 48.5, 50.0, 49.0, 51.0, 48.5, 50.0,
           49.0, 48.5, 51.5, 49.0, 50.0, 48.5, 50.5, 49.0, 51.0, 49.5,
           50.5, 49.0, 51.5, 49.5, 50.0, 52.0, 49.0, 50.5, 53.5, 51.0,
           50.0, 52.5, 49.5, 51.0, 50.0, 53.0, 51.5, 55.0, 52.0, 54.0,
           56.0, 54.5, 55.5, 53.0, 54.0, 51.5, 52.5, 50.0, 49.5, 51.0,
           50.0, 48.5, 51.5, 49.0, 50.5, 48.5, 50.0, 49.0, 51.5, 50.0,
           49.5, 48.5]

# ---------------- bottom panel: 5-min averages ----------------
bot_t = [1.3, 4, 5, 6.5, 10, 11.7, 15.9, 21.1, 23.2, 25.3,
         27.4, 29.5, 31.6, 33, 34.7, 36.8, 40, 45.2, 49.4, 53.5,
         57.7, 62, 68, 74.4, 78.6, 83.8, 87, 88.4, 91.2, 94.3,
         96.4, 99.5, 103.7, 107.9, 112, 116.2, 120.4, 124.6, 128.8, 131.5,
         133, 135.5, 137.6, 139.6, 142.4, 144.5, 147.6, 149.7, 154.9, 160.1,
         164.3, 166.4, 169.5, 172.7, 178.9, 184.2, 187.3, 190.4, 192.5, 195.7,
         197.7, 201.9, 208.2, 212.4, 216.6, 219.7, 222.8, 224.9, 227, 231.2,
         237.5, 241.6, 245.8, 250, 254.2, 258.4, 262, 264.6, 266.7, 276,
         285.5, 288.7, 291, 292.9, 296, 299.1, 302.3, 306.4, 312, 320,
         330, 340, 347, 355, 362, 370, 380, 390, 395, 400,
         410, 418, 425, 430, 436, 442, 451, 458, 470, 480,
         490, 500, 506, 512, 518, 524, 528, 534, 545, 560,
         575, 585, 592, 600, 610, 620, 630, 645, 657, 665,
         675, 685, 695, 705, 715, 725, 735, 745, 750, 755,
         760, 770, 780, 800, 820, 840, 860, 880, 900, 920,
         940, 955, 970, 990, 1010, 1030, 1050, 1070, 1090, 1110,
         1130, 1150, 1170, 1190, 1198, 1202, 1207, 1230, 1250, 1270,
         1290, 1310, 1320, 1330, 1340, 1348, 1360, 1380, 1400, 1420,
         1430, 1438]
bot_z = [75.7, 69.0, 65.9, 68.3, 68.8, 66.6, 65.9, 65.9, 71.6, 75.4,
         77.8, 71.9, 71.6, 67.6, 68.8, 67.8, 67.1, 67.6, 68.3, 69.5,
         70.4, 70.2, 70.2, 70.2, 71.9, 71.9, 73.8, 75.2, 71.6, 71.1,
         69.2, 66.4, 66.6, 65.9, 66.8, 67.5, 66.1, 65.0, 65.5, 70.0,
         74.0, 73.5, 67.8, 72.8, 72.3, 67.8, 66.9, 68.3, 66.2, 65.9,
         65.9, 67.1, 66.2, 65.7, 65.7, 65.5, 68.5, 67.6, 68.5, 68.8,
         66.6, 66.1, 65.9, 66.1, 65.9, 66.4, 69.7, 70.2, 68.5, 68.3,
         68.8, 68.5, 69.2, 69.0, 69.7, 72.1, 74.0, 75.2, 75.4, 75.4,
         75.6, 77.6, 74.5, 72.0, 68.5, 67.8, 68.3, 68.3, 68.3, 68.5,
         68.2, 68.8, 69.3, 68.5, 69.0, 68.8, 69.0, 68.5, 69.0, 68.3,
         67.8, 69.5, 70.0, 70.3, 69.5, 69.2, 69.5, 67.3, 67.3, 67.2,
         68.5, 67.0, 68.0, 67.0, 68.5, 73.5, 74.8, 69.0, 68.6, 68.4,
         68.4, 68.6, 69.0, 68.4, 69.0, 68.8, 68.2, 68.1, 69.2, 69.0,
         69.0, 68.8, 68.3, 68.2, 68.0, 68.7, 70.5, 75.5, 73.0, 77.0,
         68.5, 68.1, 68.1, 68.1, 68.0, 68.1, 68.0, 68.0, 68.1, 68.0,
         67.5, 66.8, 66.8, 66.7, 66.5, 66.4, 66.3, 66.4, 66.3, 66.8,
         66.6, 66.5, 66.6, 66.6, 67.5, 69.3, 66.8, 66.8, 66.9, 66.9,
         67.0, 67.0, 67.1, 67.4, 67.5, 67.3, 67.2, 66.9, 66.9, 67.0,
         67.5, 67.0]
bot_c = [74.8, 67.5, 64.3, 66.5, 67.0, 65.0, 64.3, 64.3, 70.0, 73.5,
         76.4, 70.4, 70.0, 66.0, 67.3, 66.2, 65.5, 66.0, 66.7, 67.8,
         68.7, 68.5, 68.5, 68.6, 70.2, 70.2, 72.2, 73.8, 70.0, 69.4,
         67.5, 64.9, 65.0, 64.4, 65.2, 65.9, 64.5, 63.5, 63.9, 68.5,
         72.8, 72.3, 66.3, 71.5, 71.0, 66.2, 65.3, 66.8, 64.6, 64.3,
         64.3, 65.5, 64.6, 64.1, 64.1, 63.9, 66.9, 66.0, 66.9, 67.2,
         65.0, 64.5, 64.3, 64.5, 64.3, 64.8, 68.2, 68.7, 66.9, 66.7,
         67.2, 66.9, 67.6, 67.4, 68.0, 70.3, 72.0, 73.4, 73.7, 73.7,
         73.9, 76.0, 72.8, 70.5, 67.0, 66.2, 66.7, 66.7, 66.6, 66.8,
         66.5, 67.0, 67.6, 66.8, 67.3, 67.0, 67.3, 66.8, 67.4, 66.5,
         66.0, 68.5, 69.0, 69.2, 68.5, 68.0, 68.5, 65.5, 65.5, 65.5,
         67.5, 65.2, 67.0, 65.2, 67.0, 72.5, 73.8, 67.5, 67.0, 66.8,
         66.8, 67.0, 67.5, 66.8, 67.8, 67.5, 66.8, 66.7, 68.0, 67.8,
         67.8, 67.5, 67.0, 66.8, 66.7, 67.5, 69.0, 74.0, 71.5, 76.0,
         67.0, 66.8, 66.8, 66.8, 66.7, 66.8, 66.7, 66.7, 66.7, 66.6,
         66.0, 65.3, 65.2, 65.1, 65.0, 64.9, 64.8, 64.8, 64.8, 65.1,
         65.0, 64.9, 65.0, 65.0, 66.5, 68.5, 65.3, 65.2, 65.3, 65.3,
         65.4, 65.4, 65.5, 65.8, 66.0, 65.7, 65.5, 65.3, 65.3, 65.4,
         66.0, 65.4]
bot_a = [56.6, 48.0, 45.7, 48.8, 50.7, 48.0, 45.2, 45.5, 54.3, 59.0,
         62.6, 54.5, 54.3, 48.8, 50.9, 48.8, 47.1, 47.3, 47.8, 50.2,
         53.0, 53.0, 52.8, 53.2, 56.1, 56.1, 59.7, 60.9, 56.8, 53.0,
         50.2, 48.0, 46.4, 45.9, 46.4, 47.1, 46.8, 47.1, 45.9, 52.0,
         55.5, 55.9, 49.7, 55.9, 55.9, 50.7, 47.5, 49.7, 47.6, 47.1,
         45.4, 46.3, 46.5, 46.8, 44.7, 44.7, 46.8, 46.8, 47.6, 46.4,
         45.4, 46.1, 46.1, 45.5, 45.5, 46.6, 47.4, 48.5, 48.3, 48.5,
         48.5, 48.8, 49.0, 49.5, 50.2, 53.5, 57.1, 63.5, 63.5, 63.5,
         63.5, 64.7, 57.0, 50.2, 49.7, 46.9, 46.4, 47.3, 48.5, 48.5,
         47.5, 48.5, 48.0, 47.5, 48.5, 48.0, 48.5, 48.5, 49.5, 48.0,
         47.5, 50.0, 51.0, 51.5, 50.0, 49.5, 50.5, 47.5, 48.0, 47.5,
         48.5, 48.0, 49.0, 48.0, 49.0, 55.0, 56.5, 48.0, 47.8, 47.5,
         47.0, 48.5, 48.5, 47.5, 48.5, 48.0, 47.5, 47.0, 48.5, 48.5,
         48.0, 48.5, 47.5, 47.5, 47.0, 48.0, 53.0, 58.0, 56.5, 63.0,
         47.0, 47.0, 46.5, 47.5, 46.5, 46.5, 46.0, 46.0, 47.0, 47.5,
         47.0, 46.5, 47.0, 47.0, 47.0, 46.5, 46.5, 48.0, 46.0, 46.8,
         46.8, 46.8, 47.5, 47.0, 49.5, 51.9, 47.5, 47.0, 47.5, 47.8,
         47.5, 48.5, 49.0, 52.0, 53.2, 51.0, 48.5, 46.5, 46.5, 46.8,
         48.0, 46.5]

# 15 s min / max envelope: continuous band ...
band_t = [0, 2, 5, 10, 16, 21, 25, 28, 31, 35,
          40, 46, 50, 56, 62, 70, 76, 82, 88, 92,
          96, 100, 106, 112, 118, 124, 129, 133, 136, 138,
          141, 144, 148, 152, 158, 164, 170, 176, 184, 189,
          194, 199, 205, 212, 219, 224, 230, 238, 246, 254,
          260, 265, 275, 285, 289, 293, 297, 303, 310, 320,
          335, 350, 365, 380, 395, 410, 420, 430, 442, 452,
          460, 475, 490, 500, 512, 520, 526, 532, 545, 560,
          580, 592, 600, 612, 625, 640, 655, 670, 685, 700,
          715, 728, 738, 745, 750, 755, 760, 775, 800, 840,
          880, 920, 945, 970, 1000, 1040, 1080, 1110, 1150, 1190,
          1198, 1202, 1207, 1250, 1300, 1330, 1340, 1360, 1400, 1430,
          1439]
band_lo = [66, 66, 63.5, 64.5, 63.5, 63.5, 66, 68, 66, 65,
           64.8, 65, 65.5, 66.5, 67, 67, 67.5, 68.5, 70, 68,
           65.5, 64, 63.5, 64, 63.5, 62.8, 63, 65, 65, 65,
           65, 64.5, 64, 64, 63.5, 63.5, 63.5, 63.3, 63.2, 64.5,
           64.5, 64, 63.5, 63.5, 64, 66, 66, 66.3, 66.8, 67.3,
           69, 72.5, 73, 73, 74, 68, 66, 65.8, 65.5, 65.6,
           65.5, 66, 65.8, 66, 66, 65, 66.5, 67, 66.5, 66,
           64.2, 64.2, 65, 64, 64, 65, 70, 66, 65.8, 65.6,
           65.6, 66, 65.6, 66.2, 66, 65.6, 66.4, 66.4, 66.2, 65.8,
           65.6, 66.2, 67.5, 72, 69.5, 74, 66.5, 66.4, 66.4, 66.4,
           66.4, 66.3, 65.6, 64.9, 64.8, 64.6, 64.5, 64.8, 64.6, 64.7,
           65.5, 67, 65.0, 65.0, 65.1, 65.4, 65.6, 65.2, 65.0, 65.6,
           65.0]
band_hi = [76, 72, 68, 70, 67.5, 67.5, 76, 79, 74, 70.5,
           69, 69.5, 70.5, 72.5, 72, 72, 73, 74, 77, 74,
           71.5, 68.5, 68, 69, 69, 67, 67.5, 76, 75, 70,
           74.5, 70, 69, 70, 68, 68, 68, 67.5, 67.5, 71,
           71, 68.5, 68, 68, 68.5, 72.5, 70.5, 71, 71.5, 72,
           75, 77, 77.5, 77.8, 80, 75, 70.5, 70.5, 70.5, 70.5,
           70.2, 71.5, 71, 71.2, 71, 70, 72.5, 73, 72, 72,
           69.5, 69.3, 70.5, 69, 69, 71, 77, 72, 70.8, 70.6,
           70.6, 71.5, 70.5, 71.5, 71, 70.3, 71.8, 71.5, 71.3, 70.6,
           70.3, 71.3, 73.5, 78, 75.5, 80, 69.5, 69.0, 69.1, 69.0,
           69.0, 69.0, 68.4, 67.8, 67.6, 67.3, 67.3, 67.8, 67.5, 67.6,
           69.0, 71.5, 67.8, 67.9, 68.0, 68.4, 68.5, 68.2, 67.9, 68.5,
           67.9]

# ... and short 15 s maxima (spikes)
spike_t = [2.3, 8, 13, 18, 24, 26, 27.5, 29.5, 33, 36.8,
           46.2, 57.7, 62.9, 70, 80.7, 87, 90.1, 92, 94.3, 96,
           97.4, 102.7, 111, 116.2, 120.4, 130, 133.4, 136, 141.3, 145.5,
           151.8, 159.1, 163.3, 168.5, 174.8, 186, 189.4, 192, 194.6, 200.9,
           207.8, 223.9, 227.4, 239.5, 250, 261.5, 272.9, 279.3, 289.7, 291.8,
           303, 342, 346, 362, 366, 372, 381, 393.8, 398, 417.4,
           419, 421, 423.7, 425.7, 427, 428.5, 430, 432, 434.3, 436,
           438, 441, 443, 445, 447.5, 449, 451.4, 453, 460, 475,
           487.7, 491, 493.2, 496, 500, 504, 508, 513, 516, 518,
           519.5, 524, 526.5, 529, 531, 545, 560, 575, 590.6, 593,
           598, 604, 606, 609.4, 611, 613, 615.3, 617, 619, 621.6,
           624, 640, 650, 656.5, 658, 660, 661.8, 663, 665, 667.4,
           669, 672, 674.3, 676, 679, 681.2, 683, 686.3, 688, 690,
           692.6, 695, 697.4, 700, 703.2, 706, 712, 716.2, 720, 723.1,
           725, 727, 730.2, 733, 735, 737.2, 740, 743, 745.1, 748,
           751, 754.3, 756.4, 759, 773, 800, 812, 860, 920, 958,
           1008, 1070.7, 1105, 1112, 1125, 1169, 1200, 1202.8, 1250, 1256,
           1302, 1320, 1351, 1426, 1432]
spike_hi = [85.9, 91.6, 70.7, 69.7, 78, 87.6, 80, 84.7, 80.4, 83.5,
            77.8, 76.9, 80.4, 74.5, 77.8, 80, 87.8, 82, 88.9, 80,
            78.8, 83, 78.5, 78, 78.5, 76, 86.4, 78, 84.2, 80.2,
            75, 75.9, 79.2, 85, 77.8, 75, 87.3, 78, 82.1, 78.8,
            76.4, 86.9, 77.3, 79.7, 75, 79, 77.3, 77.8, 86.4, 81.6,
            78, 75, 77, 80, 74, 74, 75, 78, 74, 85,
            80, 88, 80, 93, 96, 101.5, 90, 85, 95, 88,
            83, 92, 86, 88, 80, 86, 95, 84, 73, 74,
            80, 78, 96, 82, 76, 88, 78, 80, 90, 86,
            84, 86, 82, 85, 78, 73, 74, 74, 80, 76,
            74, 85, 80, 97, 88, 84, 95, 85, 82, 94,
            80, 74, 75, 96, 88, 82, 95, 85, 82, 94,
            86, 80, 93, 84, 82, 95, 86, 91, 84, 80,
            84, 78, 85, 78, 86, 76, 74, 77, 78, 91,
            86, 80, 96, 82, 78, 85, 80, 82, 80, 84,
            79, 90, 87, 76, 73, 72, 73, 72, 72, 72,
            72, 75, 75, 72, 74, 72, 80, 79, 73, 71.5,
            73, 71.5, 74, 74, 73]
spike_lo = [66, 65, 64, 63.5, 65, 66, 68, 66, 64.5, 64.5,
            65, 67, 67.5, 67.5, 68.5, 69, 70, 68, 67, 65.5,
            64.5, 64, 64, 64, 63, 63.5, 65, 64.5, 65, 64,
            64, 63.8, 63.8, 64, 63.5, 64, 65, 65, 65, 64,
            63.8, 66, 66, 66.5, 67, 71, 73, 73, 74, 70,
            66, 65.5, 66, 65.8, 65.8, 65.8, 66, 66, 66, 66.5,
            66.5, 66.5, 66.5, 66.5, 66.5, 66.5, 66.5, 66.5, 66.5, 66.5,
            66.5, 66.5, 66.5, 66.5, 66.5, 66.5, 66.5, 66.5, 64.2, 64.2,
            64.5, 64.5, 64.5, 64, 64, 64, 64, 64, 64.5, 64.5,
            64.5, 66, 66, 66, 66, 65.8, 65.6, 65.6, 66, 66,
            65.6, 65.8, 65.8, 66, 66, 66, 66, 66, 66, 66,
            66, 65.6, 65.8, 66.2, 66.2, 66.2, 66.2, 66.2, 66.2, 66.2,
            66.2, 66.2, 66.2, 66.2, 66.2, 66.2, 66.2, 66, 66, 66,
            65.8, 65.8, 65.8, 65.8, 65.8, 65.6, 65.6, 65.6, 65.8, 66,
            66, 66, 66, 66, 66.5, 67.5, 68, 70, 72, 71,
            70, 73, 72, 68, 66.4, 66.4, 66.4, 66.4, 66.3, 65.0,
            64.8, 64.5, 64.8, 64.8, 64.8, 64.7, 65.5, 66, 65.0, 65.0,
            65.1, 65.3, 65.2, 65.2, 65.4]

for a in (avg_z, avg_c, avg_a, peak_z, peak_c, peak_a):
    assert len(a) == len(top_t), len(a)
for a in (extra_z, extra_c, extra_a):
    assert len(a) == len(extra_t), len(a)
for a in (quiet_z, quiet_c, quiet_a):
    assert len(a) == len(quiet_t), len(a)
for a in (bot_z, bot_c, bot_a):
    assert len(a) == len(bot_t), len(a)
for a in (band_lo, band_hi):
    assert len(a) == len(band_t), len(a)
for a in (spike_lo, spike_hi):
    assert len(a) == len(spike_t), len(a)

# ---------------- styling ----------------
BG = "#fef6dc"
FONT = "DejaVu Sans"
W, H1, H2 = 2284, 504, 505
DOT = "M-0.2,0A0.2,0.2 0 1,0 0.2,0A0.2,0.2 0 1,0 -0.2,0Z"          # plot markers
DOT_LEG = "M0.6,0A0.4,0.4 0 1,0 1.4,0A0.4,0.4 0 1,0 0.6,0Z"        # legend handle (dot)
BAR_LEG = "M-1,-0.32L3,-0.32L3,0.32L-1,0.32Z"                      # legend handle (line)
LINE_LEG = "M-1,0L3,0"

MAJ_X = "datum.value % 120 === 0"
MAJ_Y = "datum.value % 12 === 0"


def x_axis(fmt):
    return alt.Axis(
        values=list(range(0, 1440, 30)),
        labelExpr=f"datum.value % 120 === 0 ? utcFormat(datum.value * 60000, '{fmt}') : ''",
        labelFlush=False, labelOverlap=False, labelFontSize=8, labelPadding=4,
        title="time", titlePadding=6, titleFontSize=10,
        tickSize={"condition": {"test": MAJ_X, "value": 7}, "value": 4},
        grid=True,
        gridColor={"condition": {"test": MAJ_X, "value": "#ababab"}, "value": "#d2d2d2"},
        gridDash={"condition": {"test": MAJ_X, "value": []}, "value": [1.5, 1.5]},
        gridWidth={"condition": {"test": MAJ_X, "value": 1.4}, "value": 0.8},
        domainColor="black", domainWidth=1.2, tickColor="black",
    )


def y_axis(orient):
    return alt.Axis(
        orient=orient,
        values=list(range(36, 109, 4)),
        labelExpr="datum.value % 12 === 0 ? datum.label : ''",
        labelFlush=False, labelOverlap=False, labelFontSize=7.5, labelPadding=3,
        title="dB SPL", titleFontSize=10, titlePadding=10, titleAngle=270,
        tickSize={"condition": {"test": MAJ_Y, "value": 7}, "value": 4},
        grid=(orient == "left"),
        gridColor={"condition": {"test": MAJ_Y, "value": "#ababab"}, "value": "#bdbdbd"},
        gridDash={"condition": {"test": MAJ_Y, "value": []}, "value": [4, 2]},
        gridWidth={"condition": {"test": MAJ_Y, "value": 1.4}, "value": 0.9},
        domainColor="black", domainWidth=1.2, tickColor="black",
    )


xs = alt.Scale(domain=[0, 1439], nice=False, zero=False)
ys = alt.Scale(domain=[36, 108], nice=False, zero=False)
X_TOP = alt.X("t:Q", scale=xs, axis=x_axis("%H:%M"))
X_BOT = alt.X("t:Q", scale=xs, axis=x_axis("%H:%M:%S"))

# ---------------- top panel ----------------
top_dom = ["peak dB(Z)", "peak dB(C)", "peak dB(A)", "avg dB(Z)", "avg dB(C)", "avg dB(A)"]
top_col = alt.Scale(domain=top_dom,
                    range=["#1e90ff", "#ff00ff", "#2e8b57", "#4682b4", "#da70d6", "#9acd32"])
top_shp = alt.Scale(domain=top_dom, range=[DOT_LEG, DOT_LEG, DOT_LEG, BAR_LEG, BAR_LEG, BAR_LEG])
top_leg = alt.Legend(title=None, orient="bottom-right", offset=5, columns=2,
                     symbolSize=121, symbolStrokeWidth=0, labelFont=FONT, labelFontSize=9,
                     labelColor="black", fillColor=BG, strokeColor="#dcc49c", cornerRadius=3,
                     padding=3, rowPadding=1, columnPadding=17, labelOffset=18)

legend_df = pd.DataFrame({"t": pd.Series([], dtype=float), "v": pd.Series([], dtype=float),
                          "series": pd.Series([], dtype=str)})
legend_layer = alt.Chart(legend_df).mark_point(filled=True, opacity=1, strokeWidth=0).encode(
    x=X_TOP,
    y=alt.Y("v:Q", scale=ys, axis=None),
    color=alt.Color("series:N", scale=top_col, legend=top_leg),
    shape=alt.Shape("series:N", scale=top_shp, legend=top_leg),
)


def peak_layer(name, main, extra, quiet, first):
    df = pd.DataFrame({"t": top_t + extra_t + quiet_t, "v": main + extra + quiet, "series": name})
    return alt.Chart(df).mark_point(filled=True, size=150, opacity=1, strokeWidth=0,
                                    shape=DOT, clip=True).encode(
        x=X_TOP,
        y=alt.Y("v:Q", scale=ys, axis=y_axis("left") if first else None),
        color=alt.Color("series:N", scale=top_col, legend=None),
    )


def avg_layer(name, vals, width, right=False):
    df = pd.DataFrame({"t": top_t, "v": vals, "series": name})
    return alt.Chart(df).mark_line(strokeWidth=width, clip=True).encode(
        x=X_TOP,
        y=alt.Y("v:Q", scale=ys, axis=y_axis("right") if right else None),
        color=alt.Color("series:N", scale=top_col, legend=None),
    )


top = alt.layer(
    legend_layer,
    peak_layer("peak dB(Z)", peak_z, extra_z, quiet_z, True),
    peak_layer("peak dB(C)", peak_c, extra_c, quiet_c, False),
    peak_layer("peak dB(A)", peak_a, extra_a, quiet_a, False),
    avg_layer("avg dB(Z)", avg_z, 1.6),
    avg_layer("avg dB(C)", avg_c, 1.6),
    avg_layer("avg dB(A)", avg_a, 1.4, right=True),
).properties(
    width=W, height=H1,
    title=alt.TitleParams("average and peak noise level (1 min sampling)", anchor="start",
                          frame="group", offset=2, font=FONT, fontSize=11.5, fontWeight="bold",
                          color="black"),
).resolve_axis(y="independent")

# ---------------- bottom panel ----------------
bot_dom = ["dB(Z)", "dB(C)", "dB(A)"]
bot_col = alt.Scale(domain=bot_dom, range=["#dc143c", "#ff8c00", "#ffd700"])
bot_leg = alt.Legend(title=None, orient="bottom-right", offset=5, symbolType=LINE_LEG,
                     symbolStrokeWidth=4, symbolSize=121, labelFont=FONT, labelFontSize=9,
                     labelColor="black", fillColor=BG, strokeColor="#dcc49c", cornerRadius=3,
                     padding=3, rowPadding=1, labelOffset=18)

band_df = pd.DataFrame({"t": band_t, "lo": band_lo, "hi": band_hi})
band_layer = alt.Chart(band_df).mark_area(color="#dc143c", opacity=0.13, clip=True).encode(
    x=X_BOT,
    y=alt.Y("lo:Q", scale=ys, axis=y_axis("left")),
    y2="hi:Q",
)
spike_df = pd.DataFrame({"t": spike_t, "lo": spike_lo, "hi": spike_hi})
spike_layer = alt.Chart(spike_df).mark_rule(color="#dc143c", opacity=0.16, strokeWidth=1.6,
                                            clip=True).encode(
    x=X_BOT,
    y=alt.Y("lo:Q", scale=ys, axis=None),
    y2="hi:Q",
)


def bot_layer(name, vals, width, legend=False, right=False):
    df = pd.DataFrame({"t": bot_t, "v": vals, "curve": name})
    return alt.Chart(df).mark_line(strokeWidth=width, clip=True).encode(
        x=X_BOT,
        y=alt.Y("v:Q", scale=ys, axis=y_axis("right") if right else None),
        color=alt.Color("curve:N", scale=bot_col, legend=bot_leg if legend else None),
    )


bottom = alt.layer(
    band_layer,
    spike_layer,
    bot_layer("dB(Z)", bot_z, 1.6, legend=True),
    bot_layer("dB(C)", bot_c, 1.6),
    bot_layer("dB(A)", bot_a, 1.4, right=True),
).properties(
    width=W, height=H2,
    title=alt.TitleParams("average noise level (5 min with 15s min/max dB envelope)", anchor="start",
                          frame="group", offset=2, font=FONT, fontSize=11.5, fontWeight="bold",
                          color="black"),
).resolve_axis(y="independent")

chart = alt.vconcat(top, bottom, spacing=1).resolve_scale(
    color="independent", shape="independent"
).resolve_legend(
    color="independent", shape="independent"
).properties(
    title=alt.TitleParams(["data from [348/mic0]", "starting point is [20231121_000058]"],
                          anchor="start", font=FONT, fontSize=13, fontWeight="bold",
                          lineHeight=16, color="black", dx=12, offset=22),
    padding={"left": 4, "top": 5, "right": 5, "bottom": 5},
).configure_view(
    fill=BG, stroke="black", strokeWidth=1.2,
).configure_axis(
    labelFont=FONT, titleFont=FONT, labelColor="black", titleColor="black",
    titleFontWeight="normal",
)

chart.save("out.html", embed_options={"renderer": "svg", "actions": False})
